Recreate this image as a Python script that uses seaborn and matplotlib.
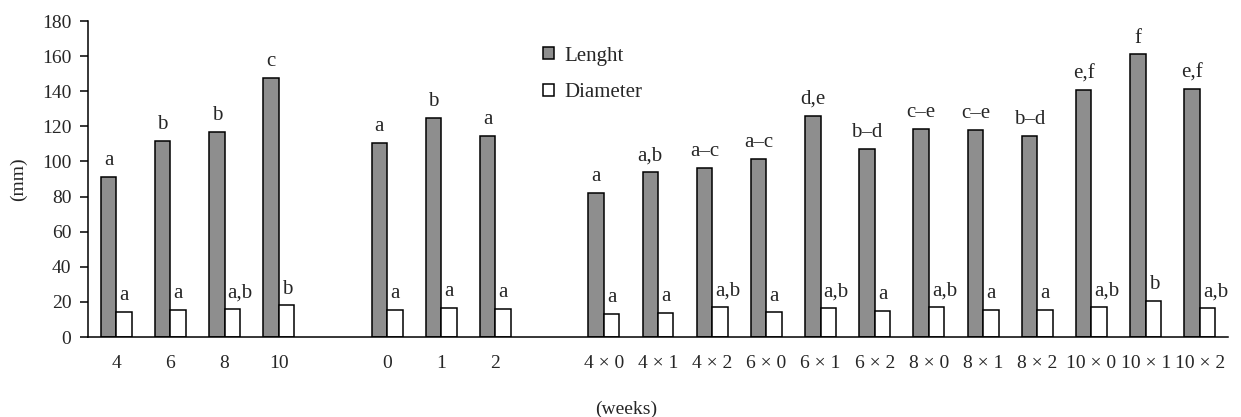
import matplotlib
matplotlib.use("Agg")
import matplotlib.pyplot as plt
import seaborn as sns
import pandas as pd

# ---- data ----
categories = ['4', '6', '8', '10', '0', '1', '2',
              '4 × 0', '4 × 1', '4 × 2', '6 × 0', '6 × 1', '6 × 2',
              '8 × 0', '8 × 1', '8 × 2', '10 × 0', '10 × 1', '10 × 2']
length_vals = [91, 111.5, 117, 147.5, 110.5, 125, 114.5,
               82, 94, 96.5, 101.5, 126, 107,
               118.5, 118, 114.5, 140.5, 161, 141]
diameter_vals = [14.5, 15.5, 16, 18, 15.5, 16.5, 16,
                 13, 13.5, 17, 14, 16.5, 15,
                 17, 15.5, 15.5, 17, 20.5, 16.5]
length_letters = ['a', 'b', 'b', 'c', 'a', 'b', 'a',
                  'a', 'a,b', 'a–c', 'a–c', 'd,e', 'b–d',
                  'c–e', 'c–e', 'b–d', 'e,f', 'f', 'e,f']
diameter_letters = ['a', 'a', 'a,b', 'b', 'a', 'a', 'a',
                    'a', 'a', 'a,b', 'a', 'a,b', 'a',
                    'a,b', 'a', 'a', 'a,b', 'b', 'a,b']
series_names = ['Lenght', 'Diameter']
order = categories[:4] + [' '] + categories[4:7] + ['  '] + categories[7:]

df = pd.DataFrame({
    'cat': categories * 2,
    'val': length_vals + diameter_vals,
    'series': [series_names[0]] * len(categories) + [series_names[1]] * len(categories),
})

sns.set_style('white')
plt.rcParams['font.family'] = ['Liberation Serif', 'DejaVu Serif']

fig = plt.figure(figsize=(12.41, 4.17), dpi=100)
ax = fig.add_axes([88 / 1241, 1 - 337 / 417, (1228 - 88) / 1241, (337 - 21) / 417])

sns.barplot(data=df, x='cat', y='val', hue='series', order=order,
            hue_order=series_names,
            palette={'Lenght': '#8e8e8e', 'Diameter': 'white'},
            saturation=1, width=0.57, errorbar=None,
            edgecolor='black', linewidth=1.1, ax=ax)

ax.set_ylim(0, 180)
ax.set_xlim(-0.52, len(order) - 0.48)
ax.set_yticks(range(0, 181, 20))
for s in ['top', 'right']:
    ax.spines[s].set_visible(False)
for s in ['left', 'bottom']:
    ax.spines[s].set_color('black')
    ax.spines[s].set_linewidth(1.1)

ax.tick_params(axis='y', which='major', length=6, width=1.1, color='black',
               direction='out', left=True, pad=6, labelsize=14)
ax.tick_params(axis='x', which='major', length=0, pad=13, labelsize=14)

ax.set_ylabel('(mm)', fontsize=14)
ax.set_xlabel('(weeks)', fontsize=14)
ax.yaxis.set_label_coords(-0.053, 0.5)
ax.xaxis.set_label_coords(0.472, -0.2)

# letters above bars
letter_sets = [length_letters, diameter_letters]
for ci, (cont, letters) in enumerate(zip(ax.containers, letter_sets)):
    patches = sorted([p for p in cont.patches if p.get_height() == p.get_height()],
                     key=lambda p: p.get_x())
    for p, lab in zip(patches, letters):
        if ci == 0:
            ax.annotate(lab, (p.get_x() + p.get_width() / 2, p.get_height()),
                        xytext=(0, 8.5), textcoords='offset points',
                        ha='center', va='baseline', fontsize=15)
        else:
            ax.annotate(lab, (p.get_x(), p.get_height()),
                        xytext=(2.2, 8.5), textcoords='offset points',
                        ha='left', va='baseline', fontsize=15)

handles, labels = ax.get_legend_handles_labels()
ax.legend(handles, labels, loc='upper left', bbox_to_anchor=(0.392, 0.945),
          frameon=False, fontsize=15, handlelength=0.5, handleheight=0.5,
          handletextpad=0.5, labelspacing=0.85, borderaxespad=0)

fig.savefig('out.png', dpi=100)
